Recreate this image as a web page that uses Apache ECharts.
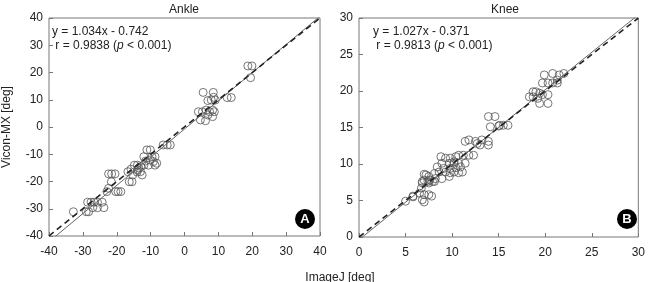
<!DOCTYPE html>
<html>
  <head>
    <meta charset="UTF-8">
    <title>Ankle / Knee</title>
    <script src="https://cdn.jsdelivr.net/npm/echarts@6/dist/echarts.min.js"></script>
    <style>
      html, body { margin: 0; padding: 0; background: #fff; }
      #main { width: 648px; height: 282px; }
    </style>
  </head>
  <body>
    <div id="main"></div>
    <script>
      // ankle (ImageJ vs Vicon-MX)
      var ankleX = [-32.8, -29.0, -28.3, -28.6, -27.6, -26.7, -25.7, -24.3, -23.8, -25.7, -27.1,
        -22.4, -21.5, -20.5, -21.6, -22.4, -22.9, -20.3, -19.6, -18.8, -16.7, -16.3, -15.5,
        -11.1, -10.1, -12.0, -9.6, -8.7, -14.8, -13.9, -12.9, -12.0, -10.6, -8.7,
        -15.8, -13.9, -13.0, -15.3, -12.5, -10.1, -9.2, -8.2, -14.0, -11.5, -13.5,
        -6.3, -5.1, -4.2, 18.7, 19.9, 19.5, 5.5, 8.5, 8.6, 9.1, 7.9, 6.9, 12.6, 13.8,
        4.1, 5.3, 6.4, 7.4, 8.3, 8.8, 4.7, 6.2, 6.9, 8.3];
      var ankleY = [-31.1, -31.1, -31.1, -27.6, -27.6, -27.6, -27.6, -27.6, -29.6, -29.6, -29.6,
        -17.2, -17.2, -17.2, -20.1, -22.5, -23.7, -23.7, -23.7, -23.7, -16.4, -20.1, -20.1,
        -8.4, -8.4, -10.9, -10.9, -10.9, -14.0, -14.0, -14.5, -14.0, -14.0, -14.0,
        -15.5, -15.8, -16.4, -17.6, -17.6, -12.1, -12.7, -13.3, -16.5, -12.5, -15.0,
        -6.6, -6.6, -6.6, 22.4, 22.4, 18.1, 12.7, 12.7, 10.9, 9.9, 9.9, 9.7, 10.8, 10.8,
        5.6, 5.6, 6.2, 5.6, 6.2, 5.6, 2.6, 2.3, 4.4, 3.8];

      // knee
      var kneeX = [5.0, 5.8, 6.5, 7.0, 7.0, 7.8, 6.8, 7.0, 7.5, 8.1, 7.2, 7.6,
        8.8, 9.3, 9.8, 10.4, 8.9, 9.7, 10.2, 10.7, 8.4, 9.1, 9.8, 10.4, 10.9, 11.1, 10.7,
        8.1, 8.6, 9.3, 9.8, 10.2, 7.0, 7.5, 8.2, 8.9, 9.7, 6.8, 7.4, 7.9, 6.7, 7.5, 6.8, 5.8,
        11.4, 11.2, 10.7, 11.8, 12.3, 10.2, 11.4, 11.8, 12.5, 13.2, 13.9, 13.0, 13.9, 12.7,
        13.9, 14.6, 15.1, 15.5, 16.0, 14.1, 15.0,
        18.3, 18.7, 19.0, 19.4, 19.7, 20.3, 18.7, 19.2, 19.4, 20.3,
        19.9, 20.8, 21.5, 22.0, 19.7, 20.3, 20.8, 21.3, 21.3];
      var kneeY = [4.9, 5.6, 6.0, 4.8, 5.8, 5.6, 7.4, 7.8, 7.4, 7.6, 8.5, 7.8,
        11.0, 10.8, 10.8, 11.0, 10.1, 10.1, 10.1, 10.1, 9.6, 9.4, 9.4, 9.5, 9.6, 8.9, 8.8,
        8.7, 8.9, 8.9, 8.8, 8.9, 8.6, 8.3, 8.0, 8.0, 8.3, 7.6, 7.6, 7.6, 6.7, 5.8, 5.1, 5.5,
        10.1, 11.2, 11.2, 11.2, 11.2, 10.3, 13.1, 13.3, 13.1, 13.3, 13.1, 12.6, 12.6, 12.8,
        16.5, 16.5, 15.3, 15.3, 15.3, 15.1, 15.2,
        19.2, 19.9, 19.9, 19.7, 19.5, 19.5, 19.2, 19.0, 18.3, 18.3,
        22.2, 22.4, 22.2, 22.4, 21.1, 21.1, 21.1, 21.1, 21.5];

      // line of identity and regression (y = 1.034x - 0.742 / y = 1.027x - 0.371)
      var ankleIdentity = [[-40, -40], [40, 40]];
      var ankleFit = [[-40, -42.1], [40, 40.62]];
      var kneeIdentity = [[0, 0], [30, 30]];
      var kneeFit = [[0, -0.37], [30, 30.44]];

      var ankleTicks = [-40, 40, 10];
      var kneeTicks = [0, 30, 5];

      function zip(xs, ys) {
        var out = [];
        for (var i = 0; i < xs.length; i++) out.push([xs[i], ys[i]]);
        return out;
      }

      var FONT = '"Liberation Sans", Arial, sans-serif';
      var boxColor = '#777';

      function axis(t, gi) {
        return {
          type: 'value', gridIndex: gi, min: t[0], max: t[1], interval: t[2],
          axisLine: { show: false, onZero: false },
          axisTick: { show: true, inside: true, length: 4, lineStyle: { color: boxColor } },
          splitLine: { show: false },
          axisLabel: { color: '#222', fontSize: 12, fontFamily: FONT, margin: 10 }
        };
      }

      var xA0 = axis(ankleTicks, 0), xA1 = axis(kneeTicks, 1);
      var yA0 = axis(ankleTicks, 0), yA1 = axis(kneeTicks, 1);
      yA0.axisLabel.margin = 6; yA1.axisLabel.margin = 6;
      yA0.name = 'Vicon-MX [deg]';
      yA0.nameLocation = 'middle';
      yA0.nameGap = 36;
      yA0.nameTextStyle = { color: '#222', fontSize: 12, fontFamily: FONT };

      function dots(data, i) {
        return {
          type: 'scatter', xAxisIndex: i, yAxisIndex: i, data: data,
          symbol: 'circle', symbolSize: 8,
          itemStyle: { color: 'rgba(255,255,255,0)', borderColor: '#555', borderWidth: 1 },
          z: 2
        };
      }
      function line(data, i, dashed) {
        return {
          type: 'line', xAxisIndex: i, yAxisIndex: i, data: data,
          symbol: 'none', clip: true, silent: true,
          lineStyle: dashed ? { color: '#222', width: 1.6, type: [6, 4] } : { color: '#666', width: 1 },
          z: 3
        };
      }

      function badge(cx, cy, letter) {
        return {
          type: 'group', children: [
            { type: 'circle', shape: { cx: cx, cy: cy, r: 10 }, style: { fill: '#000' } },
            { type: 'text', x: cx, y: cy, style: { text: letter, fill: '#fff', font: 'bold 13px ' + FONT, align: 'center', verticalAlign: 'middle' } }
          ]
        };
      }
      function eqText(x, y, eq, r) {
        return {
          type: 'text', left: x, top: y,
          style: {
            text: eq + '\n ' + r[0] + '{i|p}' + r[1],
            fill: '#222', font: '12px ' + FONT, lineHeight: 14,
            rich: { i: { fontStyle: 'italic', fontSize: 12, fontFamily: FONT, fill: '#222' } }
          }
        };
      }

      var chart = echarts.init(document.getElementById('main'));
      chart.setOption({
        animation: false,
        backgroundColor: '#fff',
        title: [
          { text: 'Ankle', left: 179, top: -1, textAlign: 'center', textStyle: { fontSize: 12, fontWeight: 'normal', color: '#222', fontFamily: FONT } },
          { text: 'Knee', left: 500, top: -1, textAlign: 'center', textStyle: { fontSize: 12, fontWeight: 'normal', color: '#222', fontFamily: FONT } }
        ],
        grid: [
          { left: 38, top: 18, width: 282, height: 218, show: true, borderColor: boxColor, borderWidth: 1, backgroundColor: 'transparent' },
          { left: 359, top: 18, width: 283, height: 219, show: true, borderColor: boxColor, borderWidth: 1, backgroundColor: 'transparent' }
        ],
        xAxis: [xA0, xA1],
        yAxis: [yA0, yA1],
        series: [
          dots(zip(ankleX, ankleY), 0),
          line(ankleFit, 0, false),
          line(ankleIdentity, 0, true),
          dots(zip(kneeX, kneeY), 1),
          line(kneeFit, 1, false),
          line(kneeIdentity, 1, true)
        ],
        graphic: [
          eqText(52, 25, 'y = 1.034x - 0.742', ['r = 0.9838 (', ' < 0.001)']),
          eqText(373, 25, 'y = 1.027x - 0.371', ['r = 0.9813 (', ' < 0.001)']),
          badge(305, 219, 'A'),
          badge(627, 219, 'B'),
          { type: 'text', x: 340, y: 278, style: { text: 'ImageJ [deg]', fill: '#222', font: '12px ' + FONT, align: 'center', verticalAlign: 'middle' } }
        ]
      });
    </script>
  </body>
</html>
